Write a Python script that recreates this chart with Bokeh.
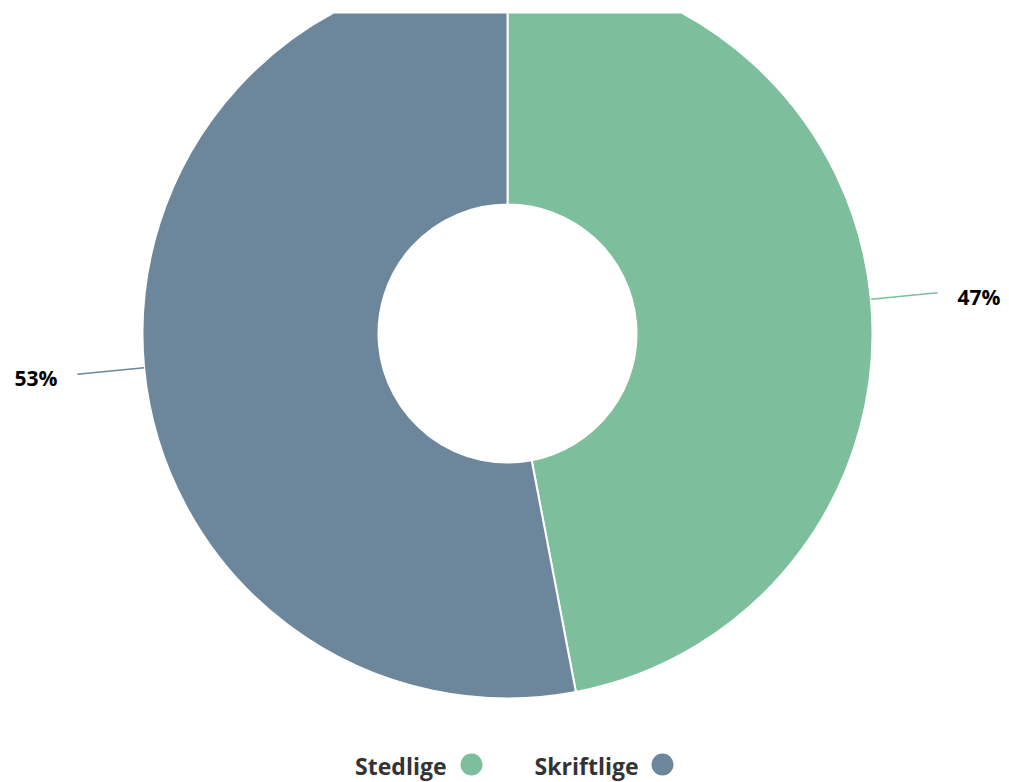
import math
from bokeh.plotting import figure
from bokeh.models import Range1d, ColumnDataSource
from bokeh.core.properties import value
from bokeh.embed import file_html
from bokeh.resources import INLINE

# ---- data ----
categories = ["Stedlige", "Skriftlige"]
values = [47, 53]
colors = ["#7dbf9c", "#6c879b"]

# ---- layout (pixel-like data units) ----
W, H = 1009, 782
TOP = 13
p = figure(width=W, height=H, output_backend="svg", toolbar_location=None,
           x_range=Range1d(0, W), y_range=Range1d(0, H - TOP),
           min_border_left=0, min_border_right=0, min_border_bottom=0, min_border_top=TOP)
p.axis.visible = False
p.grid.visible = False
p.outline_line_color = None
p.background_fill_color = "white"
p.border_fill_color = "white"

cx, cy = 507, H - 333
r_in, r_out = 129, 365

total = float(sum(values))
starts, ends, mids = [], [], []
cum = 0.0
for v in values:
    a0 = math.pi / 2 - 2 * math.pi * cum / total
    cum += v
    a1 = math.pi / 2 - 2 * math.pi * cum / total
    starts.append(a0)
    ends.append(a1)
    mids.append((a0 + a1) / 2)

src = ColumnDataSource(dict(x=[cx] * len(values), y=[cy] * len(values),
                            start=starts, end=ends, color=colors, cat=categories))
p.annular_wedge(x="x", y="y", inner_radius=r_in, outer_radius=r_out,
                start_angle="start", end_angle="end", direction="clock",
                fill_color="color", line_color="white", line_width=2, source=src)

# leader lines and labels
lead = 67
gap = 20
for v, m, c in zip(values, mids, colors):
    x0 = cx + r_out * math.cos(m)
    y0 = cy + r_out * math.sin(m)
    x1 = cx + (r_out + lead) * math.cos(m)
    y1 = cy + (r_out + lead) * math.sin(m)
    p.segment(x0=[x0], y0=[y0], x1=[x1], y1=[y1], line_color=c, line_width=1.5)
    right = math.cos(m) >= 0
    tx = x1 + gap if right else x1 - gap
    p.text(x=[tx], y=[y1 - 4], text=[f"{round(v / total * 100)}%"],
           text_font=value("Open Sans"), text_font_style="bold", text_font_size="21px",
           text_color="#000000", text_align="left" if right else "right",
           text_baseline="middle")

# legend (label left of marker)
leg_y = H - 765
leg_text_x = [446, 638]
leg_dot_x = [471, 662]
p.text(x=leg_text_x, y=[leg_y] * 2, text=categories,
       text_font=value("Open Sans"), text_font_style="bold", text_font_size="23px",
       text_color="#333333", text_align="right", text_baseline="middle")
p.scatter(x=leg_dot_x, y=[leg_y + 1] * 2, size=22, marker="circle",
          fill_color=colors, line_color=None)

open("out.html", "w").write(file_html(p, INLINE))
